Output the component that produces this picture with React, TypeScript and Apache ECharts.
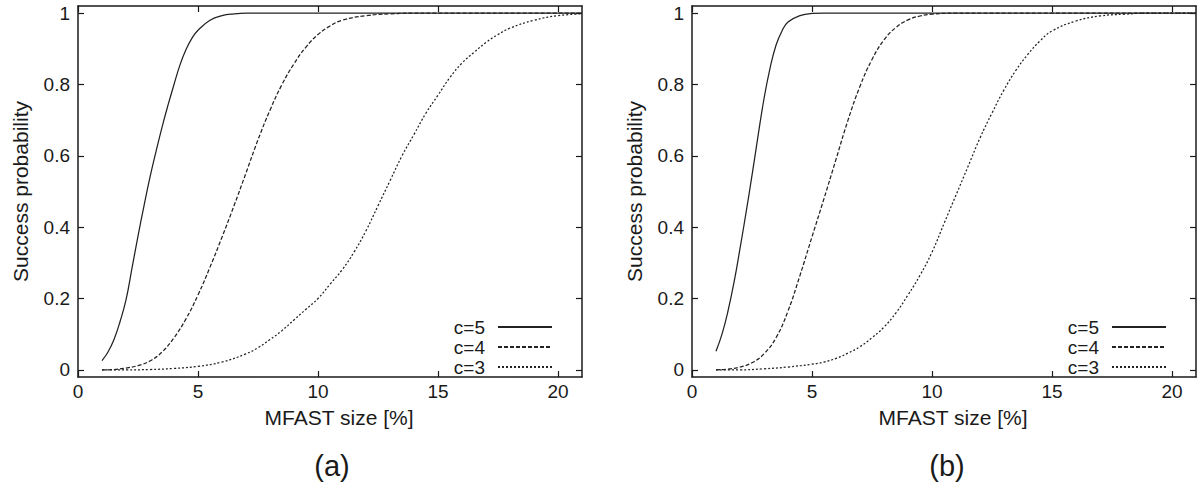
import React, { useEffect, useRef } from "react";
import * as echarts from "echarts";

// ---- data ----
const SERIES_NAMES = ["c=5", "c=4", "c=3"];
const X_TICKS = [0, 5, 10, 15, 20];
const Y_TICKS = [0, 0.2, 0.4, 0.6, 0.8, 1];
const PANEL_LABELS = ["(a)", "(b)"];

// panel (a)
const XA5 = [1, 1.25, 1.5, 1.75, 2, 2.25, 2.5, 2.75, 3, 3.25, 3.5, 3.75, 4, 4.25, 4.5, 4.75, 5, 5.5, 6, 6.5, 7, 8, 10, 15, 21];
const YA5 = [0.026, 0.05, 0.085, 0.135, 0.196, 0.285, 0.375, 0.46, 0.54, 0.612, 0.68, 0.742, 0.8, 0.855, 0.898, 0.93, 0.952, 0.98, 0.993, 0.998, 1, 1, 1, 1, 1];
const XA4 = [1, 1.5, 2, 2.5, 3, 3.5, 4, 4.5, 5, 5.5, 6, 6.5, 7, 7.5, 8, 8.5, 9, 9.5, 10, 10.5, 11, 12, 13, 14, 21];
const YA4 = [0, 0.001, 0.005, 0.012, 0.025, 0.05, 0.09, 0.143, 0.21, 0.288, 0.372, 0.46, 0.552, 0.645, 0.728, 0.8, 0.858, 0.905, 0.94, 0.964, 0.98, 0.993, 0.998, 1, 1];
const XA3 = [1, 2, 3, 4, 5, 6, 7, 7.5, 8, 8.5, 9, 9.5, 10, 10.5, 11, 11.5, 12, 12.5, 13, 13.5, 14, 14.5, 15, 15.5, 16, 16.5, 17, 17.5, 18, 19, 20, 21];
const YA3 = [0, 0, 0.001, 0.004, 0.01, 0.022, 0.045, 0.062, 0.085, 0.11, 0.14, 0.17, 0.2, 0.24, 0.28, 0.33, 0.39, 0.46, 0.53, 0.6, 0.66, 0.72, 0.77, 0.82, 0.86, 0.89, 0.918, 0.94, 0.958, 0.98, 0.993, 0.998];

// panel (b)
const XB5 = [1, 1.25, 1.5, 1.75, 2, 2.25, 2.5, 2.75, 3, 3.25, 3.5, 3.75, 4, 4.5, 5, 5.5, 21];
const YB5 = [0.052, 0.1, 0.165, 0.245, 0.34, 0.44, 0.545, 0.655, 0.76, 0.845, 0.91, 0.95, 0.975, 0.993, 0.999, 1, 1];
const XB4 = [1, 1.5, 2, 2.5, 3, 3.5, 4, 4.5, 5, 5.5, 6, 6.5, 7, 7.5, 8, 8.5, 9, 9.5, 10, 11, 21];
const YB4 = [0, 0.002, 0.008, 0.02, 0.045, 0.09, 0.165, 0.265, 0.373, 0.48, 0.59, 0.7, 0.795, 0.87, 0.925, 0.96, 0.981, 0.992, 0.997, 1, 1];
const XB3 = [1, 2, 3, 4, 5, 5.5, 6, 6.5, 7, 7.5, 8, 8.5, 9, 9.5, 10, 10.5, 11, 11.5, 12, 12.5, 13, 13.5, 14, 14.5, 15, 16, 17, 18, 19, 21];
const YB3 = [0, 0, 0.003, 0.008, 0.016, 0.022, 0.032, 0.047, 0.065, 0.09, 0.12, 0.16, 0.21, 0.265, 0.33, 0.41, 0.49, 0.57, 0.65, 0.72, 0.785, 0.84, 0.885, 0.922, 0.95, 0.978, 0.992, 0.997, 1, 1];

const zip = (xs: number[], ys: number[]) => xs.map((x, i) => [x, ys[i]]);

const FONT = "'Liberation Sans', Arial, Helvetica, sans-serif";
const INK = "#1a1a1a";
const LINE = "#222";

export default function App() {
  const ref = useRef<HTMLDivElement>(null);

  useEffect(() => {
    if (!ref.current) return;
    const chart = echarts.init(ref.current, undefined, { renderer: "svg" });

    const grids = [
      { left: 78, top: 6, width: 504, height: 371 },
      { left: 692, top: 6, width: 504, height: 371 },
    ];

    const xAxes: any[] = [];
    const yAxes: any[] = [];
    grids.forEach((_, g) => {
      const common = {
        type: "value",
        gridIndex: g,
        splitLine: { show: false },
        axisLine: { show: true, onZero: false, lineStyle: { color: INK, width: 1.5 } },
        axisTick: { show: true, inside: true, length: 6, lineStyle: { color: INK, width: 1.2 } },
      };
      xAxes.push({
        ...common,
        position: "bottom",
        min: 0,
        max: 21,
        axisTick: { ...common.axisTick, customValues: X_TICKS },
        axisLabel: { show: true, customValues: X_TICKS, color: INK, fontSize: 19, fontFamily: FONT, margin: 5 },
        name: "MFAST size [%]",
        nameLocation: "middle",
        nameGap: 30,
        nameTextStyle: { color: INK, fontSize: 21, fontFamily: FONT, padding: [0, 0, 0, 18] },
      });
      xAxes.push({
        ...common,
        position: "top",
        min: 0,
        max: 21,
        axisTick: { ...common.axisTick, customValues: X_TICKS },
        axisLabel: { show: false },
      });
      yAxes.push({
        ...common,
        position: "left",
        min: -0.02,
        max: 1.02,
        axisTick: { ...common.axisTick, customValues: Y_TICKS },
        axisLabel: { show: true, customValues: Y_TICKS, color: INK, fontSize: 19, fontFamily: FONT, margin: 8 },
        name: "Success probability",
        nameLocation: "middle",
        nameGap: 47,
        nameTextStyle: { color: INK, fontSize: 21, fontFamily: FONT },
      });
      yAxes.push({
        ...common,
        position: "right",
        min: -0.02,
        max: 1.02,
        axisTick: { ...common.axisTick, customValues: Y_TICKS },
        axisLabel: { show: false },
      });
    });

    const dashes: any[] = ["solid", [4, 2], [2, 2]];
    const panelData = [
      [zip(XA5, YA5), zip(XA4, YA4), zip(XA3, YA3)],
      [zip(XB5, YB5), zip(XB4, YB4), zip(XB3, YB3)],
    ];
    const series: any[] = [];
    panelData.forEach((sets, g) => {
      sets.forEach((d, i) => {
        series.push({
          type: "line",
          name: SERIES_NAMES[i],
          xAxisIndex: g * 2,
          yAxisIndex: g * 2,
          data: d,
          showSymbol: false,
          symbol: "none",
          smooth: 0.45,
          lineStyle: { color: LINE, width: 1.25, type: dashes[i] },
          itemStyle: { color: LINE },
        });
      });
    });

    const legendCommon = {
      orient: "vertical",
      align: "right",
      top: 312,
      itemWidth: 54,
      itemHeight: 20,
      itemGap: 0,
      data: SERIES_NAMES,
      itemStyle: { opacity: 0 },
      textStyle: { color: INK, fontSize: 19, fontFamily: FONT, lineHeight: 20, padding: [0, 8, 0, 0] },
      selectedMode: false,
    };

    chart.setOption({
      animation: false,
      backgroundColor: "#ffffff",
      grid: grids,
      xAxis: xAxes,
      yAxis: yAxes,
      series,
      legend: [
        { ...legendCommon, right: 642 },
        { ...legendCommon, right: 28 },
      ],
      graphic: [
        { type: "text", x: 332, y: 466, style: { text: PANEL_LABELS[0], fontSize: 29, fontFamily: FONT, fill: INK, textAlign: "center", textVerticalAlign: "middle" } },
        { type: "text", x: 947, y: 466, style: { text: PANEL_LABELS[1], fontSize: 29, fontFamily: FONT, fill: INK, textAlign: "center", textVerticalAlign: "middle" } },
      ],
    });

    return () => chart.dispose();
  }, []);

  return (
    <div
      ref={ref}
      style={{ position: "fixed", left: 0, top: 0, width: 1200, height: 488, background: "#fff" }}
    />
  );
}
